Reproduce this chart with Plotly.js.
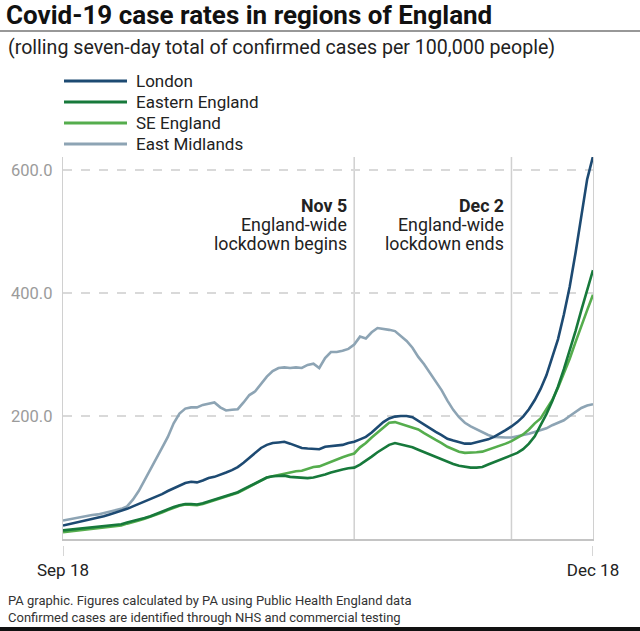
<!DOCTYPE html>
<html>
<head>
<meta charset="utf-8">
<script src="https://cdn.plot.ly/plotly-3.0.1.min.js"></script>
<style>
  html, body { margin: 0; padding: 0; background: #fff; }
  #chart { width: 640px; height: 631px; }
</style>
</head>
<body>
<div id="chart"></div>
<script>
// ---- Data (daily, Sep 18 -> Dec 18) ----
const startDate = '2020-09-18';
const seriesNames = ['London', 'Eastern England', 'SE England', 'East Midlands'];
const seriesColors = ['#1d4a72', '#17793b', '#55ad4d', '#8da4b4'];

const london = [22,24,26,28,30,33,35,37,40,43, 45,49,53,57,60,64,69,73,78,82,
  87,91,93,92,95,99,101,104,108,112, 117,124,132,141,148,153,156,157,158,155,
  151,148,147,146,146,150,151,152,153,156, 158,162,166,173,182,190,196,199,200,200,
  198,192,186,179,174,169,163,160,157,155, 155,157,159,162,166,171,177,183,190,199,
  211,226,244,266,295,325,365,410,465,525, 585,622];

const easternEngland = [14,15,16,16,17,18,19,20,21,22, 24,27,29,32,34,37,41,44,48,52,
  55,57,57,56,58,61,63,66,69,72, 76,81,86,91,96,100,102,103,103,101,
  100,99,99,100,102,105,108,111,113,115, 116,121,127,134,141,147,153,156,154,151,
  149,145,141,138,134,130,126,122,119,117, 116,116,117,121,125,128,132,136,140,146,
  155,167,185,203,224,248,276,306,338,372, 406,437];

const seEngland = [11,12,13,14,15,16,17,18,20,21, 22,25,27,30,33,36,40,43,47,51,
  54,56,56,55,57,60,62,65,68,71, 75,80,85,91,96,100,102,104,107,109,
  110,111,114,117,118,122,126,130,133,136, 139,149,156,165,173,182,189,190,187,185,
  182,178,172,166,161,156,150,146,142,140, 140,141,142,145,148,151,155,159,164,170,
  178,188,196,210,226,246,268,293,320,347, 372,397];

const eastMidlands = [30,32,34,36,37,39,40,42,44,46, 49,53,64,78,95,112,130,148,166,188,
  204,212,214,214,218,220,222,214,209,210, 211,222,234,240,252,264,273,278,279,278,
  279,278,283,285,278,294,304,304,306,309, 316,329,326,336,343,342,340,338,330,322,
  311,296,284,270,255,242,225,210,198,189, 183,178,173,169,166,165,165,165,167,168,
  171,174,177,180,185,189,193,200,206,213, 217,219];

const yTickVals = [200, 400, 600];
const yTickText = ['200.0', '400.0', '600.0'];
const xTickText = ['Sep 18', 'Dec 18'];

const eventDates = ['2020-11-07', '2020-12-04'];
const eventLabels = [['Nov 5', 'England-wide', 'lockdown begins'],
                     ['Dec 2', 'England-wide', 'lockdown ends']];

const titleText = 'Covid-19 case rates in regions of England';
const subtitleText = '(rolling seven-day total of confirmed cases per 100,000 people)';
const footerLines = ['PA graphic. Figures calculated by PA using Public Health England data',
                     'Confirmed cases are identified through NHS and commercial testing'];

// ---- Build date categories ----
const seriesValues = [london, easternEngland, seEngland, eastMidlands];
const dates = [];
(function () {
  const d0 = new Date(startDate + 'T00:00:00Z');
  for (let i = 0; i < london.length; i++) {
    const d = new Date(d0.getTime() + i * 86400000);
    dates.push(d.toISOString().slice(0, 10));
  }
})();

// ---- Geometry helpers (pixel -> paper) ----
const W = 640, H = 631;
const M = { l: 63, r: 47, t: 157, b: 92 };
const PW = W - M.l - M.r, PH = H - M.t - M.b;
const px = x => (x - M.l) / PW;
const py = y => (H - M.b - y) / PH;

const FONT = 'Roboto, "Liberation Sans", sans-serif';

// Traces: draw East Midlands first so others sit on top
const drawOrder = [3, 2, 1, 0];
const traces = drawOrder.map(i => ({
  type: 'scatter', mode: 'lines',
  x: dates, y: seriesValues[i], name: seriesNames[i],
  line: { color: seriesColors[i], width: 2.6 },
  showlegend: false, hoverinfo: 'skip'
}));

const shapes = [];
const annotations = [];

// Title rule
shapes.push({ type: 'line', xref: 'paper', yref: 'paper',
  x0: px(0), x1: px(640), y0: py(31), y1: py(31),
  line: { color: '#333', width: 1.2 } });
// Bottom rule
shapes.push({ type: 'line', xref: 'paper', yref: 'paper',
  x0: px(0), x1: px(640), y0: py(629), y1: py(629),
  line: { color: '#111', width: 4 } });

// Event lines
eventDates.forEach(d => {
  shapes.push({ type: 'line', xref: 'x', yref: 'paper', x0: d, x1: d, y0: 0, y1: 1,
    layer: 'below', line: { color: '#d0d0d0', width: 1.5 } });
});
// Detached x ticks
[dates[0], dates[dates.length - 1]].forEach(d => {
  shapes.push({ type: 'line', xref: 'x', yref: 'paper', x0: d, x1: d,
    y0: py(546), y1: py(556), line: { color: '#c8c8c8', width: 1.5 } });
});

// Manual legend
seriesNames.forEach((n, i) => {
  const yy = 81 + 21 * i;
  shapes.push({ type: 'line', xref: 'paper', yref: 'paper',
    x0: px(64), x1: px(127), y0: py(yy), y1: py(yy),
    line: { color: seriesColors[i], width: 3 } });
  annotations.push({ xref: 'paper', yref: 'paper', x: px(134), y: py(yy),
    xanchor: 'left', yanchor: 'middle', showarrow: false, text: n,
    font: { family: FONT, size: 17, color: '#222' } });
});

// Subtitle
annotations.push({ xref: 'paper', yref: 'paper', x: px(6), y: py(48),
  xanchor: 'left', yanchor: 'middle', showarrow: false, text: subtitleText,
  font: { family: FONT, size: 19.6, color: '#222' } });

// Event labels
const lineYs = [205, 224, 243];
eventDates.forEach((d, k) => {
  eventLabels[k].forEach((t, j) => {
    annotations.push({ xref: 'x', yref: 'paper', x: d, y: py(lineYs[j]),
      xanchor: 'right', yanchor: 'middle', xshift: -5, showarrow: false,
      text: j === 0 ? '<b>' + t + '</b>' : t, align: 'right',
      font: { family: FONT, size: 17.8, color: '#222' } });
  });
});

// Footer
footerLines.forEach((t, j) => {
  annotations.push({ xref: 'paper', yref: 'paper', x: px(6), y: py(600 + 17 * j),
    xanchor: 'left', yanchor: 'middle', showarrow: false, text: t,
    font: { family: FONT, size: 13, color: '#333' } });
});

const layout = {
  width: W, height: H,
  margin: M,
  paper_bgcolor: '#fff', plot_bgcolor: '#fff',
  showlegend: false,
  title: { text: '<b>' + titleText + '</b>', xref: 'container', yref: 'container',
    x: 6 / W, xanchor: 'left', y: 1 - 15 / H, yanchor: 'middle',
    font: { family: FONT, size: 26, color: '#111' } },
  xaxis: {
    type: 'date', range: [dates[0], dates[dates.length - 1]],
    showline: true, linecolor: '#c4c4c4', linewidth: 1.5,
    showgrid: false, zeroline: false, ticks: '',
    tickvals: [dates[0], dates[dates.length - 1]], ticktext: xTickText,
    ticklabelstandoff: 15,
    tickfont: { family: FONT, size: 17, color: '#222' }
  },
  yaxis: {
    range: [0, 621], showline: true, mirror: true, linecolor: '#d0d0d0', linewidth: 1.2,
    showgrid: true, gridcolor: '#d9d9d9', griddash: 'dash', gridwidth: 1.2,
    zeroline: false, ticks: '', tickvals: yTickVals, ticktext: yTickText,
    ticklabelstandoff: 6,
    tickfont: { family: FONT, size: 16.5, color: '#9b9b9b' }
  },
  shapes: shapes,
  annotations: annotations
};

Plotly.newPlot('chart', traces, layout, { staticPlot: true, displayModeBar: false });
</script>
</body>
</html>
